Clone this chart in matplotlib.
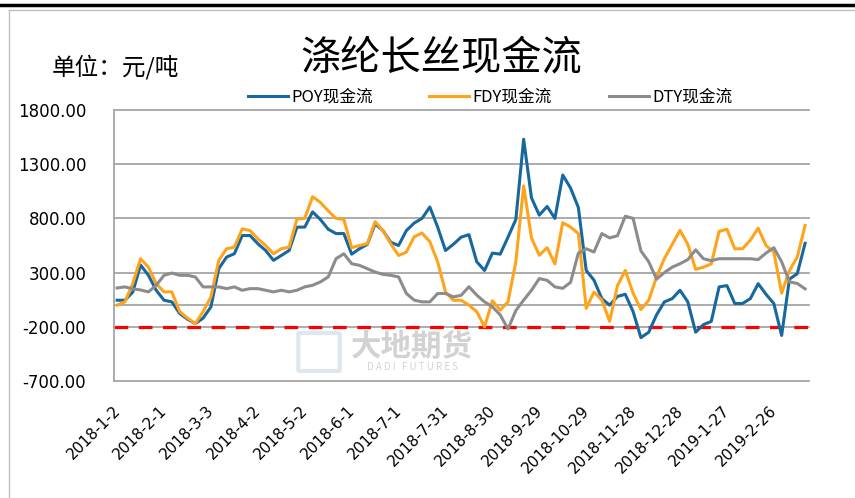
import pandas as pd
import matplotlib
matplotlib.use('Agg')
import matplotlib.pyplot as plt
from matplotlib.lines import Line2D
from matplotlib.patches import FancyBboxPatch
from matplotlib.transforms import ScaledTranslation

plt.rcParams['font.family'] = ['Noto Sans CJK SC', 'DejaVu Sans']

# cash flow, yuan/ton, read roughly every 5 days from 2018-1-2
poy = [45, 45, 120, 370, 275, 137, 45, 30, -77, -130,
       -170, -120, -16, 336, 443, 474, 642, 642, 566, 504,
       413, 458, 504, 719, 720, 860, 790, 700, 660, 660,
       470, 520, 560, 750, 688, 580, 550, 688, 757, 800,
       905, 720, 504, 560, 627, 650, 400, 320, 480, 470,
       627, 790, 1530, 990, 830, 910, 800, 1200, 1080, 900,
       320, 230, 60, 0, 80, 100, -60, -300, -250, -90,
       30, 60, 137, 30, -250, -180, -150, 168, 180, 15,
       15, 60, 198, 100, 15, -280, 240, 290, 570]
fdy = [0, 30, 200, 428, 351, 198, 122, 122, -60, -120,
       -170, -60, 76, 413, 520, 535, 703, 688, 611, 550,
       474, 520, 535, 794, 800, 1000, 948, 870, 800, 790,
       530, 550, 566, 770, 688, 566, 458, 489, 631, 665,
       585, 400, 122, 45, 45, 0, -60, -200, 40, -46,
       30, 400, 1100, 620, 460, 530, 380, 760, 720, 660,
       -30, 120, 47, -150, 180, 320, 110, -40, 45, 260,
       430, 560, 690, 560, 330, 350, 380, 680, 700, 520,
       520, 600, 710, 550, 490, 110, 320, 443, 735]
dty = [158, 168, 150, 140, 122, 183, 275, 296, 275, 275,
       260, 168, 168, 168, 152, 168, 137, 152, 152, 137,
       122, 137, 122, 137, 168, 183, 214, 260, 428, 474,
       382, 367, 336, 305, 284, 275, 260, 107, 46, 30,
       30, 107, 107, 76, 90, 170, 92, 30, -15, -90,
       -220, -50, 46, 137, 245, 229, 168, 155, 210, 480,
       520, 490, 660, 620, 640, 820, 800, 500, 400, 240,
       300, 350, 382, 420, 510, 428, 410, 428, 428, 428,
       428, 428, 420, 480, 530, 400, 214, 200, 150]
dates = pd.date_range('2018-01-02', periods=len(poy), freq='5D')

tick_labels = ['2018-1-2', '2018-2-1', '2018-3-3', '2018-4-2', '2018-5-2',
               '2018-6-1', '2018-7-1', '2018-7-31', '2018-8-30', '2018-9-29',
               '2018-10-29', '2018-11-28', '2018-12-28', '2019-1-27', '2019-2-26']
y_ticks = [-700, -200, 300, 800, 1300, 1800]
alert_level = -200

W, H = 855, 498
fig = plt.figure(figsize=(W / 100, H / 100), dpi=100)
ax = fig.add_axes([114 / W, 1 - 381 / H, (809 - 114) / W, (381 - 110) / H])

grid_c = '#A6A6A6'
for y in y_ticks + [0]:
    ax.axhline(y, color=grid_c, lw=1.3, zorder=1, clip_on=False)
ax.axhline(alert_level, color='#FF0000', lw=2.3, ls=(0, (4.3, 3.3)), zorder=2,
           solid_capstyle='butt', dash_capstyle='butt')

ax.plot(dates, poy, color='#17689E', lw=2.2, label='POY现金流', zorder=3)
ax.plot(dates, fdy, color='#FFA31A', lw=2.2, label='FDY现金流', zorder=4)
ax.plot(dates, dty, color='#8C8C8C', lw=2.2, label='DTY现金流', zorder=5)

ax.set_ylim(-700, 1800)
ax.set_xlim(pd.Timestamp('2017-12-31'), pd.Timestamp('2019-03-20 12:00'))
for s in ['top', 'right', 'bottom']:
    ax.spines[s].set_visible(False)
ax.spines['left'].set_color(grid_c)
ax.spines['left'].set_linewidth(1.3)

ax.set_yticks(y_ticks)
ax.set_yticklabels([f'{v:.2f}' for v in y_ticks], fontsize=12, family='DejaVu Sans')
ax.tick_params(axis='y', length=0, pad=20)
ax.set_xticks(pd.to_datetime(tick_labels))
ax.tick_params(axis='x', length=0, pad=16)
ax.set_xticklabels(tick_labels, rotation=45, ha='right', va='top', fontsize=11,
                   family='DejaVu Sans')
shift = ScaledTranslation(0.06, 0, fig.dpi_scale_trans)
for lbl in ax.get_xticklabels():
    lbl.set_transform(lbl.get_transform() + shift)

fig.legend(loc='center', bbox_to_anchor=(490 / W, 1 - 97 / H), ncol=3,
           frameon=False, fontsize=12, handlelength=2.4, handletextpad=0.2,
           columnspacing=3.4, borderpad=0)

fig.text(441 / W, 1 - 58 / H, '涤纶长丝现金流', fontsize=29, ha='center', va='center',
         weight='medium')
fig.text(52 / W, 1 - 67 / H, '单位：元/吨', fontsize=17, ha='left', va='center')

# faint watermark
fig.patches.append(FancyBboxPatch((300 / W, 1 - 370 / H), 38 / W, 36 / H,
                                  boxstyle='round,pad=0.002', transform=fig.transFigure,
                                  fc='none', ec='#C9D6E3', lw=3, alpha=0.6))
fig.text(412 / W, 1 - 347 / H, '大地期货', fontsize=22, ha='center', va='center',
         color='#B5B5B5', alpha=0.6, weight='bold')
fig.text(412 / W, 1 - 367 / H, 'D A D I   F U T U R E S', fontsize=7, ha='center',
         va='center', color='#B5B5B5', alpha=0.6)

# outer frame
fig.add_artist(Line2D([0, 1], [1 - 5.5 / H] * 2, color='black', lw=2.5,
                      transform=fig.transFigure))
fig.add_artist(Line2D([9 / W, 1], [1 - 10.5 / H] * 2, color='#BFBFBF', lw=1,
                      transform=fig.transFigure))
fig.add_artist(Line2D([9 / W, 9 / W], [0, 1 - 10.5 / H], color='#BFBFBF', lw=1,
                      transform=fig.transFigure))

fig.savefig('out.png', dpi=100)
